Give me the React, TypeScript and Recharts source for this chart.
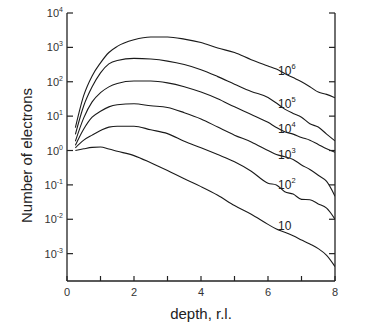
import { LineChart, Line, XAxis, YAxis, ReferenceDot } from 'recharts';

// depth in radiation lengths
const depth = [0.25, 0.5, 0.75, 1, 1.25, 1.5, 2, 2.5, 3, 3.5, 4, 4.5, 5, 5.5, 6, 6.25, 6.5, 6.75, 7, 7.25, 7.5, 7.75, 8];

// number of electrons for each primary energy
const e6 = [4.6, 40, 148, 355, 710, 1070, 1660, 2000, 2000, 1740, 1380, 955, 710, 437, 288, 234, 174, 132, 100, 72, 50, 43, 34];
const e5 = [2.95, 20, 71, 182, 331, 417, 479, 457, 398, 316, 224, 141, 85, 52, 35, 24, 16, 12, 9.3, 6.0, 4.8, 3.0, 1.9];
const e4 = [1.86, 8.9, 26, 48, 71, 89, 105, 105, 93, 72, 50, 32, 18.6, 11.2, 6.6, 4.7, 3.5, 3.0, 2.4, 2.0, 1.5, 1.12, 0.89];
const e3 = [1.41, 4.2, 9.3, 13.8, 18.6, 21.4, 22.9, 20, 17.8, 12.6, 8.3, 4.8, 2.8, 1.78, 1.0, 0.76, 0.66, 0.55, 0.38, 0.28, 0.19, 0.126, 0.047];
const e2 = [1.2, 2.0, 2.8, 3.8, 4.8, 5.1, 5.1, 4.0, 3.1, 1.86, 1.2, 0.76, 0.47, 0.25, 0.112, 0.1, 0.063, 0.054, 0.038, 0.037, 0.028, 0.021, 0.01];
const e1 = [1.0, 1.12, 1.23, 1.26, 1.1, 0.95, 0.71, 0.44, 0.26, 0.15, 0.089, 0.05, 0.025, 0.014, 0.0071, 0.0052, 0.0042, 0.0033, 0.0025, 0.0019, 0.0014, 0.00089, 0.00042];

const xTicks = [0, 1, 2, 3, 4, 5, 6, 7, 8];
const yTicks = [1e-3, 1e-2, 1e-1, 1, 10, 100, 1e3, 1e4];

// curve labels: exponent text and the value where each sits
const labelExps = ['6', '5', '4', '3', '2', ''];
const labelVals = [162, 17.8, 3.3, 0.55, 0.074, 0.005];
const labelDepth = 6.3;

const data = depth.map((x, i) => ({ x, e1: e1[i], e2: e2[i], e3: e3[i], e4: e4[i], e5: e5[i], e6: e6[i] }));
const keys = ['e6', 'e5', 'e4', 'e3', 'e2', 'e1'];

const AXIS = '#222';
const FONT = '"Liberation Sans", Arial, sans-serif';
const axisLine = { stroke: AXIS, strokeWidth: 1.3 };
const tickLine = { stroke: AXIS, strokeWidth: 1.2 };

// ticks point into the frame (negative tickSize), so label x/y arrive shifted inward
const LeftLabel = ({ x, y, payload }: any) => {
  const exp = Math.round(Math.log10(payload.value));
  return (
    <text x={x - 10} y={y + 4} textAnchor="end" fontSize={11} fill="#333" fontFamily={FONT}>
      10<tspan dy={-5} fontSize={7}>{exp}</tspan>
    </text>
  );
};

const BottomLabel = ({ x, y, payload }: any) =>
  payload.value % 2 === 0 ? (
    <text x={x} y={y + 20} textAnchor="middle" fontSize={11} fill="#333" fontFamily={FONT}>
      {payload.value}
    </text>
  ) : (
    <g />
  );

const NoLabel = () => <g />;

const CurveLabel = ({ cx, cy, exp }: any) => (
  <text x={cx} y={cy} fontSize={12} fill="#222" fontFamily={FONT}>
    10{exp && <tspan dy={-6} fontSize={7.5}>{exp}</tspan>}
  </text>
);

export default function App() {
  return (
    <div style={{ position: 'absolute', left: 0, top: 0, width: 380, height: 332, background: '#fff' }}>
      <LineChart width={380} height={332} data={data} margin={{ top: 13, right: 0, bottom: 0, left: 0 }}>
        <XAxis
          xAxisId="b"
          dataKey="x"
          type="number"
          domain={[0, 8]}
          ticks={xTicks}
          orientation="bottom"
          height={51}
          tickSize={-5}
          tickMargin={0}
          tickLine={tickLine}
          axisLine={axisLine}
          tick={<BottomLabel />}
          allowDataOverflow
        />
        <XAxis
          xAxisId="t"
          dataKey="x"
          type="number"
          domain={[0, 8]}
          ticks={xTicks}
          orientation="top"
          height={0}
          tickSize={-5}
          tickMargin={0}
          tickLine={tickLine}
          axisLine={axisLine}
          tick={<NoLabel />}
          allowDataOverflow
        />
        <YAxis
          yAxisId="l"
          type="number"
          scale="log"
          domain={[1.6e-4, 1e4]}
          ticks={yTicks}
          orientation="left"
          width={67}
          tickSize={-6}
          tickMargin={0}
          tickLine={tickLine}
          axisLine={axisLine}
          tick={<LeftLabel />}
          allowDataOverflow
        />
        <YAxis
          yAxisId="r"
          type="number"
          scale="log"
          domain={[1.6e-4, 1e4]}
          ticks={yTicks}
          orientation="right"
          width={45}
          tickSize={-6}
          tickMargin={0}
          tickLine={tickLine}
          axisLine={axisLine}
          tick={<NoLabel />}
          allowDataOverflow
        />
        {keys.map((k) => (
          <Line
            key={k}
            xAxisId="b"
            yAxisId="l"
            dataKey={k}
            type="monotone"
            stroke="#1a1a1a"
            strokeWidth={1.1}
            dot={false}
            isAnimationActive={false}
          />
        ))}
        {labelVals.map((v, i) => (
          <ReferenceDot
            key={i}
            xAxisId="b"
            yAxisId="l"
            x={labelDepth}
            y={v}
            r={0}
            shape={(p: any) => <CurveLabel {...p} exp={labelExps[i]} />}
          />
        ))}
      </LineChart>
      <svg width={380} height={332} style={{ position: 'absolute', left: 0, top: 0, pointerEvents: 'none' }}>
        <text
          x={32}
          y={155.5}
          transform="rotate(-90 32 155.5)"
          textAnchor="middle"
          fontSize={15}
          fill="#222"
          fontFamily={FONT}
        >
          Number of electrons
        </text>
        <text x={201} y={319} textAnchor="middle" fontSize={15} fill="#222" fontFamily={FONT}>
          depth, r.l.
        </text>
      </svg>
    </div>
  );
}
